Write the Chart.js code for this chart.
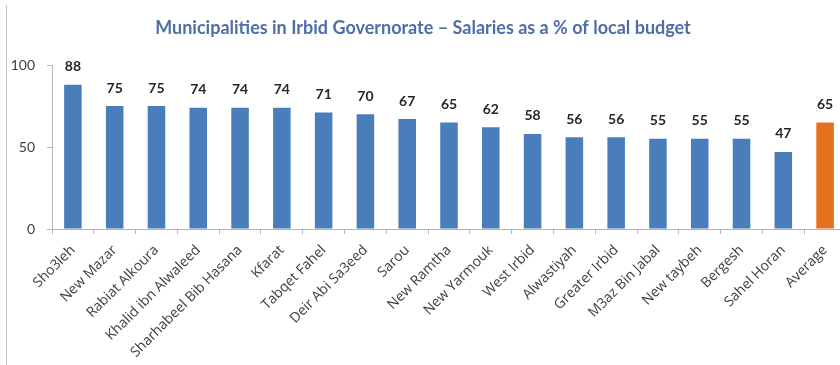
<!DOCTYPE html>
<html>
<head>
<meta charset="utf-8">
<script src="https://cdn.jsdelivr.net/npm/chart.js@4/dist/chart.umd.min.js"></script>
<style>
  html, body { margin: 0; padding: 0; background: #fff; overflow: hidden; width: 840px; height: 365px; }
  #wrap { position: relative; width: 846px; height: 365px; }
  #frame { position: absolute; left: 6px; top: 5px; bottom: 0; width: 0; border-left: 1.5px solid #c4c4c4; }
</style>
</head>
<body>
<div id="wrap">
  <canvas id="chart" width="846" height="365"></canvas>
  <div id="frame"></div>
</div>
<script>
// Municipalities and their salary share of the local budget (%)
const municipalities = [
  "Sho3leh", "New Mazar", "Rabiat Alkoura", "Khalid ibn Alwaleed",
  "Sharhabeel Bib Hasana", "Kfarat", "Tabqet Fahel", "Deir Abi Sa3eed",
  "Sarou", "New Ramtha", "New Yarmouk", "West Irbid", "Alwastiyah",
  "Greater Irbid", "M3az Bin Jabal", "New taybeh", "Bergesh", "Sahel Horan",
  "Average"
];
const salaryShare = [88, 75, 75, 74, 74, 74, 71, 70, 67, 65, 62, 58, 56, 56, 55, 55, 55, 47, 65];
const yTicks = [0, 50, 100];

const blue = "#4A7EBB";
const orange = "#E5711D";
const barColors = municipalities.map(m => m === "Average" ? orange : blue);

// Value labels above each bar
const valueLabels = {
  id: "valueLabels",
  afterDatasetsDraw(chart) {
    const ctx = chart.ctx;
    const meta = chart.getDatasetMeta(0);
    ctx.save();
    ctx.font = "bold 14px Lato, 'DejaVu Sans', sans-serif";
    ctx.fillStyle = "#262626";
    ctx.textAlign = "center";
    ctx.textBaseline = "middle";
    meta.data.forEach((bar, i) => {
      ctx.fillText(String(salaryShare[i]), bar.x, bar.y - 18);
    });
    ctx.restore();
  }
};

new Chart(document.getElementById("chart"), {
  type: "bar",
  data: {
    labels: municipalities,
    datasets: [{
      data: salaryShare,
      backgroundColor: barColors,
      borderWidth: 0,
      categoryPercentage: 1,
      barPercentage: 0.42
    }]
  },
  options: {
    responsive: false,
    animation: false,
    devicePixelRatio: 1,
    layout: { padding: { left: 0, right: 0, top: 0, bottom: 0 } },
    plugins: {
      legend: { display: false },
      tooltip: { enabled: false },
      title: {
        display: true,
        text: "Municipalities in Irbid Governorate \u2013 Salaries as a % of local budget",
        color: "#4F6EA8",
        font: { family: "Lato, 'DejaVu Sans', sans-serif", size: 18, weight: "bold", lineHeight: 1.2 },
        padding: { top: 17, bottom: 26.4 }
      }
    },
    scales: {
      x: {
        grid: {
          display: true,
          drawOnChartArea: false,
          drawTicks: true,
          tickLength: 5,
          color: "#b4b4b4",
          offset: true
        },
        border: { display: true, color: "#b4b4b4", width: 1 },
        ticks: {
          autoSkip: false,
          minRotation: 45,
          maxRotation: 45,
          padding: 8,
          color: "#404040",
          font: { family: "'Open Sans', sans-serif", size: 14 }
        },
        afterFit(scale) { scale.height = 136; }
      },
      y: {
        min: 0,
        max: 100,
        afterBuildTicks(scale) { scale.ticks = yTicks.map(v => ({ value: v })); },
        grid: {
          display: true,
          drawOnChartArea: false,
          drawTicks: true,
          tickLength: 5,
          color: "#b4b4b4"
        },
        border: { display: true, color: "#b4b4b4", width: 1 },
        ticks: {
          padding: 12,
          color: "#404040",
          font: { family: "Lato, 'DejaVu Sans', sans-serif", size: 14 }
        },
        afterFit(scale) { scale.width = 52; }
      }
    }
  },
  plugins: [valueLabels]
});
</script>
</body>
</html>
